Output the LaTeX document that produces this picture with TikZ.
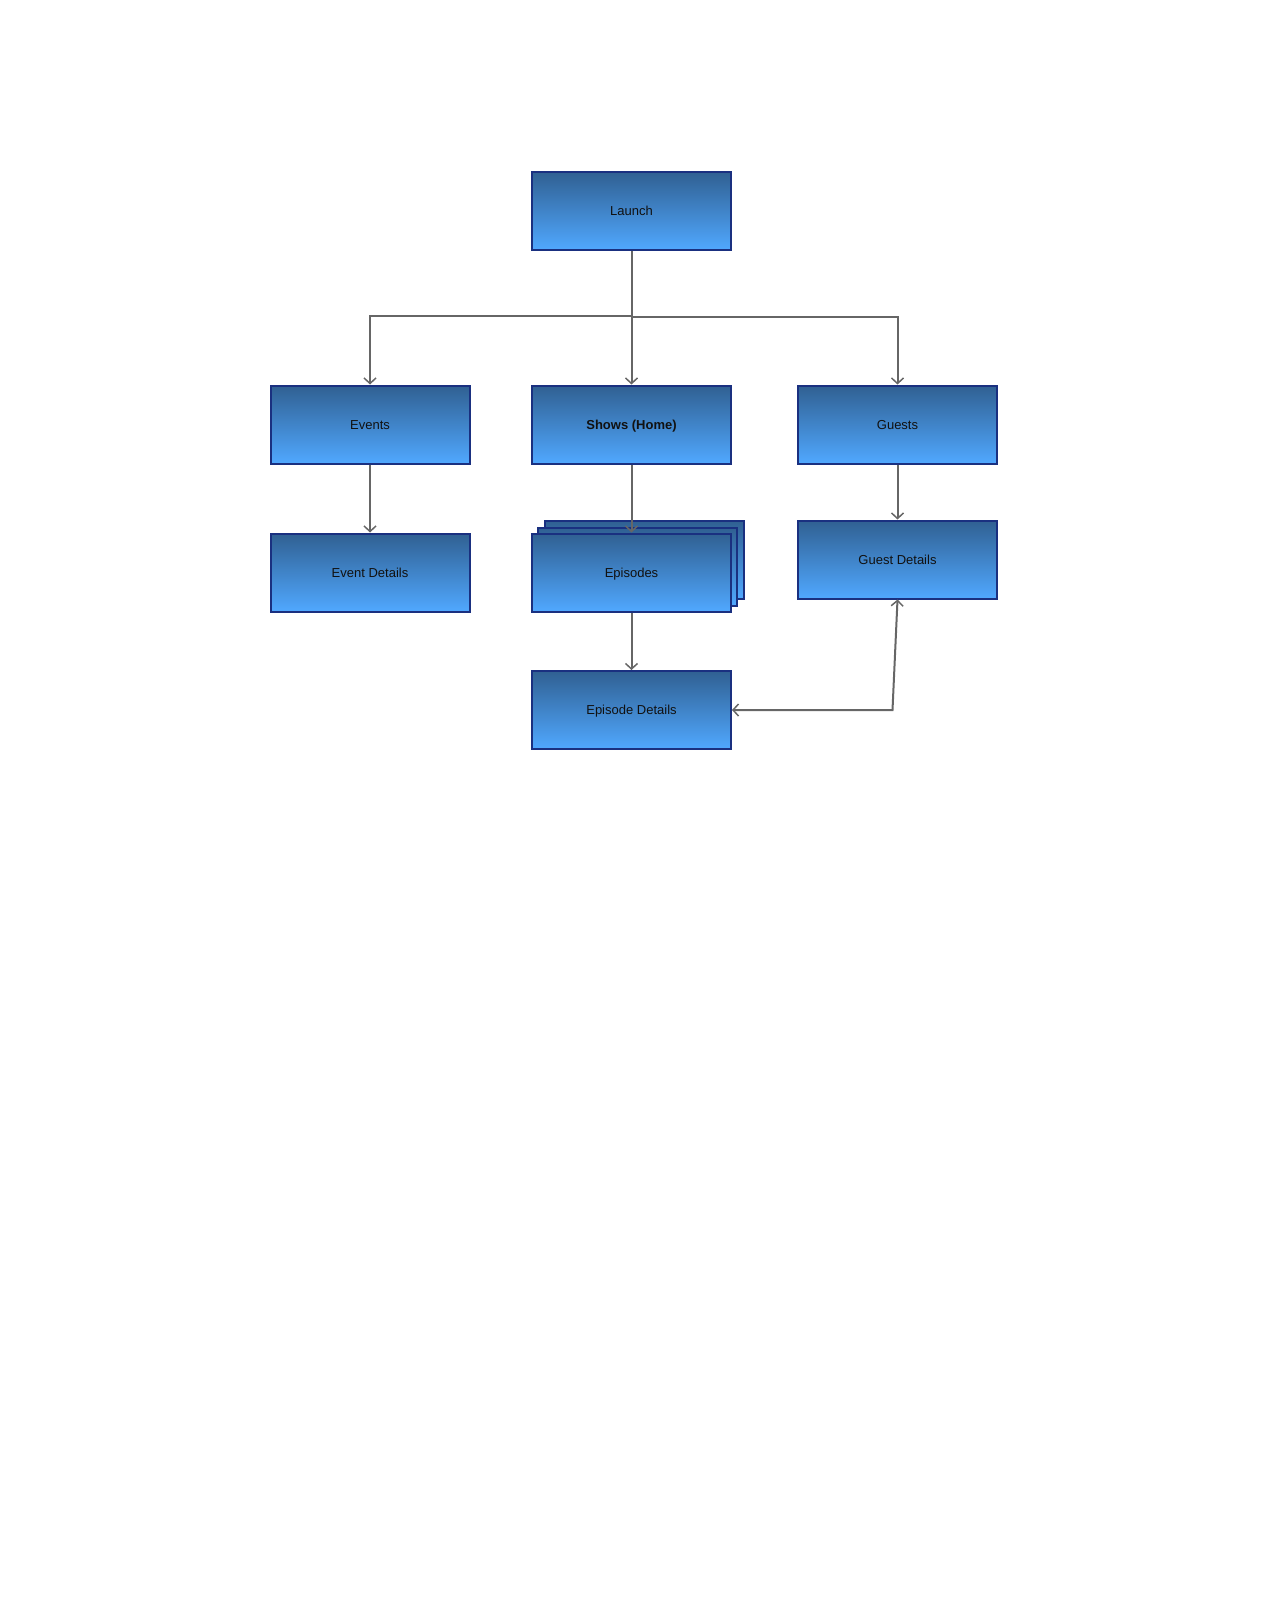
\documentclass[tikz,border=0pt]{standalone}
\usepackage{fontspec}
\setmainfont{Liberation Sans}
\usetikzlibrary{arrows.meta}
\definecolor{boxtop}{RGB}{48,96,146}
\definecolor{boxbot}{RGB}{80,168,255}
\definecolor{boxline}{RGB}{26,48,128}
\definecolor{wire}{RGB}{102,102,102}
\definecolor{ink}{RGB}{17,17,17}
\begin{document}
\begin{tikzpicture}[x=1pt,y=-1pt,
  screen/.style={draw=boxline, line width=2pt, top color=boxtop, bottom color=boxbot,
    minimum width=199pt, minimum height=78pt, inner sep=0pt, text=ink,
    text height=9pt, text depth=0pt,
    font=\fontsize{13}{15}\selectfont},
  wirearrow/.style={draw=wire, line width=2pt,
    -{Straight Barb[length=5.5pt,width=12pt,line width=1.5pt]}},
  wireboth/.style={draw=wire, line width=2pt,
    {Straight Barb[length=5.5pt,width=12pt,line width=1.5pt]}-{Straight Barb[length=5.5pt,width=12pt,line width=1.5pt]}}]
  \useasboundingbox (0,0) rectangle (1278,1608);

  % screens
  \node[screen] (launch) at (631.5,211) {Launch};
  \node[screen] (events) at (370,424.5) {Events};
  \node[screen] (shows) at (631.5,424.5) {\textbf{Shows (Home)}};
  \node[screen] (guests) at (897.5,424.5) {Guests};
  \node[screen] (eventdet) at (370,572.5) {Event Details};
  % stacked pages for the episode list
  \node[screen] (episodesback) at (644,560) {};
  \node[screen] (episodesmid) at (637.5,566.5) {};
  \node[screen] (episodes) at (631.5,572.5) {Episodes};
  \node[screen] (guestdet) at (897.5,559.5) {Guest Details};
  \node[screen] (epdet) at (631.5,710) {Episode Details};

  % branch points below Launch
  \coordinate (forkL) at (630.5,316);
  \coordinate (forkR) at (631.5,317);
  \coordinate (bend) at (892.5,710);

  % connectors
  \draw[wirearrow] (launch.south) -- (shows.north);
  \draw[wirearrow] (forkL) -| (events.north);
  \draw[wirearrow] (forkR) -| (guests.north);
  \draw[wirearrow] (events.south) -- (eventdet.north);
  \draw[wirearrow] (shows.south) -- (episodes.north);
  \draw[wirearrow] (guests.south) -- (guestdet.north);
  \draw[wirearrow] (episodes.south) -- (epdet.north);
  \draw[wireboth] (epdet.east) -- (bend) -- (guestdet.south);
\end{tikzpicture}
\end{document}
